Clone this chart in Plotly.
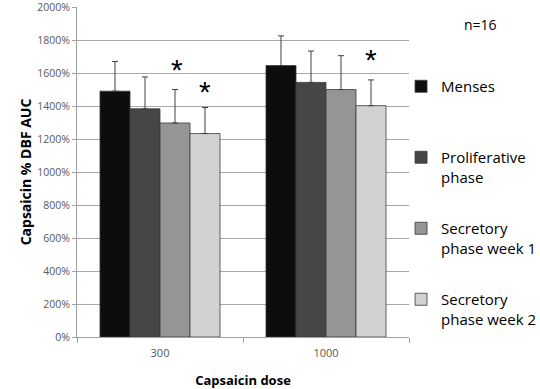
import plotly.graph_objects as go

doses = ["300", "1000"]
series_names = ["Menses<br>&nbsp;", "Proliferative<br>phase", "Secretory<br>phase week 1", "Secretory<br>phase week 2"]
menses = [1490, 1645]
proliferative = [1383, 1543]
secretory_w1 = [1297, 1500]
secretory_w2 = [1233, 1402]
err_menses = [180, 180]
err_prolif = [193, 190]
err_sec1 = [203, 205]
err_sec2 = [158, 156]
star_series = [2, 3, 3]          # series index carrying a significance star
star_dose = ["300", "300", "1000"]
star_level = [1622, 1487, 1682]
y_ticks = list(range(0, 2001, 200))
y_tick_text = [f"{v}%" for v in y_ticks]

values = [menses, proliferative, secretory_w1, secretory_w2]
errors = [err_menses, err_prolif, err_sec1, err_sec2]
colors = ["#0d0d0d", "#464646", "#959595", "#d2d2d2"]

FONT = "Open Sans"
fig = go.Figure()
for i, (name, vals, errs, col) in enumerate(zip(series_names, values, errors, colors)):
    fig.add_trace(go.Bar(
        x=doses, y=vals, name=name, legendgroup=f"g{i}",
        marker=dict(color=col, line=dict(color="#3a3a3a", width=0.8)),
        error_y=dict(type="data", array=errs, symmetric=False, arrayminus=[0, 0],
                     color="#404040", thickness=1, width=3),
    ))

offsets = [-45, -15, 17, 45]
for s, d, lvl in zip(star_series, star_dose, star_level):
    fig.add_annotation(x=doses.index(d), y=lvl, text="*", showarrow=False, xshift=offsets[s],
                       font=dict(family="Liberation Sans", size=30, color="#000000"),
                       yanchor="middle", xanchor="center")

fig.add_annotation(xref="paper", yref="paper", x=1.215, y=0.947, text="n=16", showarrow=False,
                   font=dict(family=FONT, size=14, color="#000000"), xanchor="center", yanchor="middle")

fig.update_layout(
    width=540, height=389,
    margin=dict(l=77, r=131, t=7, b=52, autoexpand=False),
    paper_bgcolor="white", plot_bgcolor="white",
    barmode="group", bargap=0.277, bargroupgap=0,
    font=dict(family=FONT, color="#000000"),
    legend=dict(x=0.976, y=0.809, xanchor="left", yanchor="top", tracegroupgap=29, valign="top",
                font=dict(family=FONT, size=15, color="#000000"), itemwidth=30,
                bgcolor="rgba(0,0,0,0)"),
    xaxis=dict(type="category", showline=True, linecolor="#a0a0a0", ticks="outside", tickson="boundaries",
               ticklen=5, tickcolor="#a0a0a0", tickfont=dict(family=FONT, size=11, color="#595959"),
               automargin=False, ticklabelstandoff=6,
               title=dict(text="<b>Capsaicin dose</b>", font=dict(family=FONT, size=13, color="#000000"),
                          standoff=16)),
    yaxis=dict(range=[0, 2000], tickmode="array", tickvals=y_ticks, ticktext=y_tick_text, showline=True,
               linecolor="#a0a0a0", ticklabeloverflow="allow",
               ticks="outside", ticklen=4, tickcolor="#a0a0a0", gridcolor="#a8a8a8", gridwidth=1,
               zeroline=False, tickfont=dict(family=FONT, size=10.5, color="#595959"), automargin=False,
               title=dict(text="<b>Capsaicin % DBF AUC</b>", font=dict(family=FONT, size=14, color="#000000"),
                          standoff=2)),
)

fig.write_html("out.html", config={"displayModeBar": False},
               post_script="document.body.style.margin='0px';")
